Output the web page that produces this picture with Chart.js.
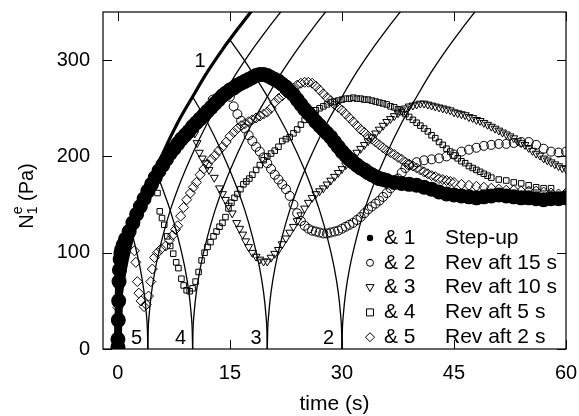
<!DOCTYPE html>
<html>
<head>
<meta charset="utf-8">
<script src="https://cdn.jsdelivr.net/npm/chart.js@4.4.1/dist/chart.umd.min.js"></script>
<style>
  html, body { margin: 0; padding: 0; background: #fff; }
</style>
</head>
<body>
<canvas id="chart" width="579" height="416"></canvas>
<script>
// axis setup
const xTicks = [0, 15, 30, 45, 60];
const yTicks = [0, 100, 200, 300];

// measured series (time in s, N1e in Pa)
const stepT = [0,0,0.05,0.1,0.15,0.2,0.3,0.4,0.5,0.7,1,1.5,2,2.5,3,3.5,4,4.5,5,5.5,6,6.5,7,7.5,8,8.5,9,9.5,10,10.5,11,11.5,12,12.5,13,13.5,14,14.5,15,15.5,16,16.5,17,17.5,18,18.5,19,19.5,20,20.5,21,21.5,22,22.5,23,23.5,24,24.5,25,25.5,26,26.5,27,27.5,28,28.5,29,29.5,30,30.5,31,31.5,32,32.5,33,33.5,34,34.5,35,35.5,36,37,38,39,40,41,42,43,44,45,46,47,48,49,50,51,52,53,54,55,56,57,58,59,60];
const stepN = [2,10,30,50,70,82,93,99,103,108,114,122,131,140,148,156,164,171,178,185,191,197,203,208,213,218,222,226,231,235,239,243,247,251,255,259,263,266,269,271,274,276,278,280,282,284,285,285,284,282,280,278,275,272,268,264,259,254,249,245,241,236,232,228,224,220,215,210,205,201,197,194,191,188,186,183,181,179,177,176,175,173,172,171,170,168,166,163,161,160,159,158,157,158,159,160,159,158,157,157,156,155,156,156,157];

const rev15T = [12.7,14,15,15.5,16,16.5,17,17.5,18,18.5,19,19.5,20,20.5,21,21.5,22,22.5,23,23.5,24,24.5,25,25.5,26,26.5,27,27.5,28,28.5,29,29.5,30,30.5,31,31.5,32,32.5,33,33.5,34,34.5,35,35.5,36,36.5,37,37.5,38,38.5,39,40,41,42,43,44,45,46,47,48,49,50,51,52,53,54,55,56,57,58,59,60];
const rev15N = [259,266,262,252,244,237,229,222,216,210,205,199,193,187,181,176,171,166,159,150,141,133,128,125,123,122,121,120,120,121,122,123,125,127,129,131,134,137,141,145,148,151,154,158,162,167,172,177,183,188,191,194,196,197,198,200,202,205,207,209,211,212,213,213,214,215,215,212,208,205,204,205];

const rev10T = [6,7,8,9,10,10.3,10.6,10.9,11.3,11.7,12.2,12.9,13.6,14,14.4,14.8,15.3,15.9,16.3,16.7,17.1,17.5,18,18.5,19,19.5,20,20.5,21,21.5,22,22.5,23,23.5,24,24.5,25,25.5,26,26.5,27,27.5,28,28.5,29,29.5,30,30.5,31,31.5,32,32.5,33,33.5,34,34.5,35,35.5,36,36.5,37,37.5,38,38.5,39,39.5,40,40.5,41,41.5,42,42.5,43,43.5,44,44.5,45,45.5,46,46.5,47,47.5,48,48.5,49,49.5,50,50.5,51,51.5,52,52.5,53,53.5,54,54.5,55,55.5,56,56.5,57,57.5,58,58.5,59,59.5,60];
const rev10N = [196,207,217,226,232,224,214,204,198,193,186,178,167,161,155,149,141,131,125,119,112,106,100,96,93,91,91,95,99,103,109,115,121,127,133,139,146,152,157,161,164,167,171,175,179,183,187,191,195,199,204,208,212,216,220,224,228,232,236,239,242,245,248,250,252,253,254,255,255,254,253,252,251,250,249,248,246,245,244,243,241,240,238,237,235,233,231,229,227,225,223,221,219,216,214,212,209,206,203,201,198,196,194,192,190,188,187];

const rev5T = [0,5,5.3,5.6,5.9,6.2,6.6,7,7.4,7.8,8.1,8.5,8.8,9.2,9.6,10,10.4,10.8,11.2,11.6,12,12.4,12.8,13.2,13.6,14,14.4,14.8,15.2,15.6,16,16.4,16.8,17.2,17.6,18,18.5,19,19.5,20,20.5,21,21.5,22,22.5,23,23.5,24,24.5,25,25.5,26,26.5,27,27.5,28,28.5,29,29.5,30,30.5,31,31.5,32,32.5,33,33.5,34,34.5,35,35.5,36,36.5,37,37.5,38,38.5,39,39.5,40,40.5,41,41.5,42,42.5,43,43.5,44,44.5,45,45.5,46,46.5,47,47.5,48,48.5,49,49.5,50,51,52,53,54,55,56,57,58];
const rev5N = [12,180,162,143,136,129,117,107,99,90,84,73,66,61,60,63,70,80,92,100,106,111,117,122,127,131,137,146,152,157,161,166,171,174,177,181,186,191,196,200,203,206,210,216,218,220,224,228,233,238,242,245,248,250,252,254,256,257,258,259,260,260,261,260,260,259,259,258,257,256,255,254,252,251,249,246,244,241,238,235,232,229,226,222,219,215,212,208,205,201,198,195,193,190,188,186,184,182,180,178,176,175,173,172,170,168,167,167];

const rev2T = [0,0,2,2.2,2.4,2.6,2.8,3.1,3.5,3.8,4.1,4.4,4.6,4.9,5.3,5.8,6.4,6.9,7.3,7.7,8,8.4,8.8,9.2,9.7,10.1,10.5,11,11.5,12,12.5,13,13.5,14,14.5,15,15.5,16,16.5,17,17.5,18,18.5,19,19.5,20,20.5,21,21.5,22,22.5,23,23.5,24,24.5,25,25.5,26,26.5,27,27.5,28,28.5,29,29.5,30,30.5,31,31.5,32,32.5,33,33.5,34,34.5,35,35.5,36,36.5,37,37.5,38,38.5,39,39.5,40,40.5,41,41.5,42,42.5,43,43.5,44,44.5,45,46,47,48,49,50,51,52,53,54,55,56,57,58,59,60];
const rev2N = [8,43,133,102,90,70,58,50,44,46,55,70,83,95,100,104,107,113,118,124,128,138,147,155,162,168,173,181,187,192,197,201,206,210,215,221,225,229,232,234,236,238,240,242,244,246,250,256,260,263,266,268,271,274,276,277,277,276,273,269,265,261,258,254,251,248,244,240,236,232,228,225,221,218,215,212,209,206,204,202,199,197,194,192,190,188,186,184,182,180,179,177,176,175,174,173,171,170,169,168,167,166,165,165,164,164,164,163,162,161,162];

// model curves: 1 = step-up envelope, 2..5 = reversal curves (down to the cusp, then up again)
const curve1T = [0,0.05,0.2,0.5,1,2,3,4,6,8,10,12,14,16,18];
const curve1N = [0,19,37,59,83,117,144,166,203,235,262,288,311,332,352];
const down2T = [2,3,3.5,3.8,3.95,4];
const down2N = [117,83,59,37,19,0];
const down5T = [5,6,7,8,9,9.5,9.8,9.95,10];
const down5N = [186,166,144,117,83,59,37,19,0];
const down10T = [10,12,14,16,17,18,19,19.5,19.8,19.95,20];
const down10N = [262,235,203,166,144,117,83,59,37,19,0];
const down15T = [15,17,19,21,23,25,26,27,28,29,29.5,29.8,29.95,30];
const down15N = [321,299,275,249,220,186,166,144,117,83,59,37,19,0];
const up5T = [4,4.05,4.2,4.5,5,6,7,8,10,12,14,16,18,20,22];
const up4T = [10,10.05,10.2,10.5,11,12,13,14,16,18,20,22,24,26,28];
const up3T = [20,20.05,20.2,20.5,21,22,23,24,26,28,30,32,34,36,38];
const up2T = [30,30.05,30.2,30.5,31,32,33,34,36,38,40,42,44,46,48];
const upN = [0,19,37,59,83,117,144,166,203,235,262,288,311,332,352];

const curveLabels = ["1", "5", "4", "3", "2"];
const curveLabelT = [11, 2.5, 8.4, 18.5, 28.2];
const curveLabelN = [299, 11, 11, 11, 11];

const legendKeys = ["& 1", "& 2", "& 3", "& 4", "& 5"];
const legendNames = ["Step-up", "Rev aft 15 s", "Rev aft 10 s", "Rev aft 5 s", "Rev aft 2 s"];

const FONT = '"Liberation Sans", Arial, Helvetica, sans-serif';
Chart.defaults.font.family = FONT;
Chart.defaults.color = "#000";

function pts(xs, ys) {
  return xs.map((x, i) => ({ x: x, y: ys[i] }));
}

function lineSet(xs, ys, w) {
  return {
    data: pts(xs, ys),
    showLine: true,
    borderColor: "#000",
    borderWidth: w,
    pointRadius: 0,
    cubicInterpolationMode: "monotone",
    fill: false,
  };
}

function markSet(xs, ys, style, r, rot) {
  return {
    data: pts(xs, ys),
    showLine: false,
    pointStyle: style,
    pointRadius: r,
    pointRotation: rot || 0,
    pointBorderColor: "#000",
    pointBackgroundColor: "rgba(0,0,0,0)",
    pointBorderWidth: 1,
  };
}

const stepSet = {
  data: pts(stepT, stepN),
  showLine: true,
  borderColor: "#000",
  borderWidth: 8,
  pointStyle: "circle",
  pointRadius: 3.5,
  pointBackgroundColor: "#000",
  pointBorderColor: "#000",
  tension: 0,
};

// legend marker shapes drawn by hand
const legendStyles = ["dot", "circle", "triDown", "square", "diamond"];

function drawMarker(ctx, kind, x, y) {
  ctx.beginPath();
  if (kind == "dot") {
    ctx.arc(x, y, 3.2, 0, Math.PI * 2);
    ctx.fill();
    return;
  }
  if (kind == "circle") ctx.arc(x, y, 3.5, 0, Math.PI * 2);
  if (kind == "triDown") { ctx.moveTo(x - 4, y - 3); ctx.lineTo(x + 4, y - 3); ctx.lineTo(x, y + 4); ctx.closePath(); }
  if (kind == "square") ctx.rect(x - 3.5, y - 3.5, 7, 7);
  if (kind == "diamond") { ctx.moveTo(x, y - 4.5); ctx.lineTo(x + 4.5, y); ctx.lineTo(x, y + 4.5); ctx.lineTo(x - 4.5, y); ctx.closePath(); }
  ctx.stroke();
}

const decor = {
  id: "decor",
  afterDatasetsDraw(chart) {
    const ctx = chart.ctx;
    const a = chart.chartArea;
    const xs = chart.scales.x, ys = chart.scales.y;
    ctx.save();
    ctx.strokeStyle = "#000";
    ctx.fillStyle = "#000";
    ctx.lineWidth = 1.2;
    ctx.strokeRect(a.left, a.top, a.right - a.left, a.bottom - a.top);

    // inward ticks on all four sides
    const tl = 9;
    ctx.beginPath();
    xTicks.forEach(v => {
      const px = Math.round(xs.getPixelForValue(v)) + 0.5;
      ctx.moveTo(px, a.bottom); ctx.lineTo(px, a.bottom - tl);
      ctx.moveTo(px, a.top); ctx.lineTo(px, a.top + tl);
    });
    yTicks.forEach(v => {
      const py = Math.round(ys.getPixelForValue(v)) + 0.5;
      ctx.moveTo(a.left, py); ctx.lineTo(a.left + tl, py);
      ctx.moveTo(a.right, py); ctx.lineTo(a.right - tl, py);
    });
    ctx.lineWidth = 1;
    ctx.stroke();

    // curve numbers
    ctx.font = "20px " + FONT;
    ctx.textAlign = "center";
    ctx.textBaseline = "middle";
    curveLabels.forEach((s, i) => {
      ctx.fillText(s, xs.getPixelForValue(curveLabelT[i]), ys.getPixelForValue(curveLabelN[i]));
    });

    // legend inside the frame
    ctx.textAlign = "left";
    ctx.font = "21px " + FONT;
    legendKeys.forEach((k, i) => {
      const y = 238 + i * 24.8;
      ctx.lineWidth = 1;
      drawMarker(ctx, legendStyles[i], 370, y);
      ctx.fillText(k, 384, y);
      ctx.fillText(legendNames[i], 445, y);
    });

    // axis titles
    ctx.textAlign = "center";
    ctx.font = "21px " + FONT;
    ctx.fillText("time (s)", (a.left + a.right) / 2, 404);

    ctx.translate(27, 196);
    ctx.rotate(-Math.PI / 2);
    ctx.textAlign = "left";
    ctx.font = "20px " + FONT;
    const wN = ctx.measureText("N").width;
    const rest = " (Pa)";
    const wR = ctx.measureText(rest).width;
    ctx.font = "14px " + FONT;
    const wS = Math.max(ctx.measureText("1").width, ctx.measureText("e").width);
    let x0 = -(wN + wS + wR) / 2;
    ctx.font = "20px " + FONT;
    ctx.fillText("N", x0, 0);
    ctx.font = "14px " + FONT;
    ctx.fillText("1", x0 + wN, 6);
    ctx.fillText("e", x0 + wN, -9);
    ctx.font = "20px " + FONT;
    ctx.fillText(rest, x0 + wN + wS, 0);
    ctx.restore();
  },
};

new Chart(document.getElementById("chart"), {
  type: "scatter",
  data: {
    datasets: [
      lineSet(curve1T, curve1N, 3.2),
      lineSet(down2T, down2N, 1.3),
      lineSet(down5T, down5N, 1.3),
      lineSet(down10T, down10N, 1.3),
      lineSet(down15T, down15N, 1.3),
      lineSet(up5T, upN, 1.3),
      lineSet(up4T, upN, 1.3),
      lineSet(up3T, upN, 1.3),
      lineSet(up2T, upN, 1.3),
      stepSet,
      markSet(rev15T, rev15N, "circle", 4.5),
      markSet(rev10T, rev10N, "triangle", 4.6, 180),
      markSet(rev5T, rev5N, "rect", 3.9),
      markSet(rev2T, rev2N, "rectRot", 5),
    ],
  },
  options: {
    responsive: false,
    animation: false,
    devicePixelRatio: 1,
    layout: { padding: { top: 9, right: 13, left: 0, bottom: 0 } },
    plugins: { legend: { display: false }, tooltip: { enabled: false } },
    scales: {
      x: {
        type: "linear",
        min: -2,
        max: 60,
        afterFit: s => { s.height = 67; s.paddingLeft = 0; s.paddingRight = 0; },
        afterBuildTicks: s => { s.ticks = xTicks.map(v => ({ value: v })); },
        ticks: { font: { size: 20 }, padding: 12, color: "#000" },
        grid: { display: false, drawTicks: false },
        border: { display: false },
      },
      y: {
        type: "linear",
        min: 0,
        max: 350,
        afterFit: s => { s.width = 103; s.paddingTop = 0; s.paddingBottom = 0; },
        afterBuildTicks: s => { s.ticks = yTicks.map(v => ({ value: v })); },
        ticks: { font: { size: 20 }, padding: 13, color: "#000" },
        grid: { display: false, drawTicks: false },
        border: { display: false },
      },
    },
  },
  plugins: [decor],
});
</script>
</body>
</html>
